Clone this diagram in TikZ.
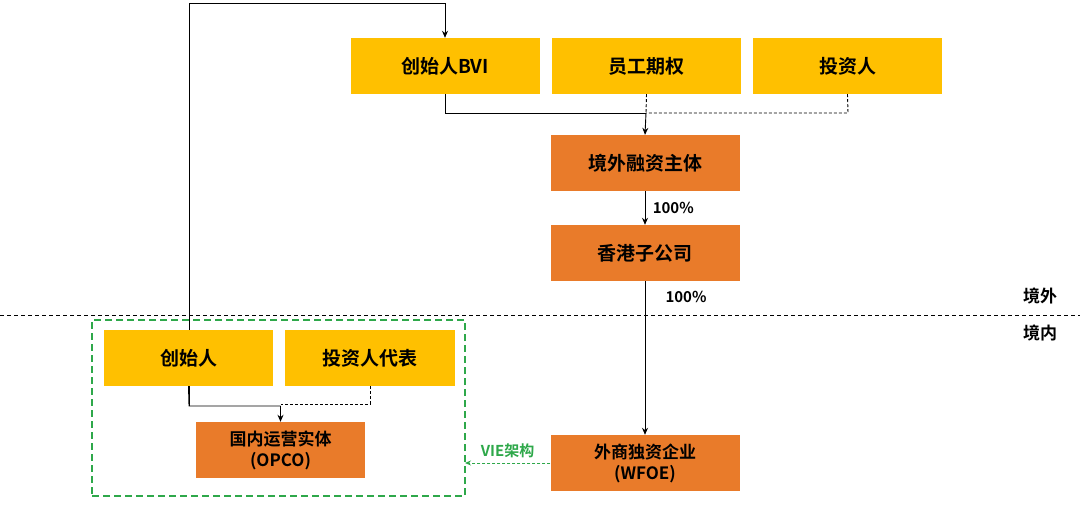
\documentclass[tikz,border=0pt]{standalone}
\usepackage{fontspec}
\setmainfont{Noto Sans CJK SC}[BoldFont={* Bold}]
\usetikzlibrary{arrows.meta}
\definecolor{yel}{HTML}{FFC000}
\definecolor{org}{HTML}{E97B2A}
\definecolor{grn}{HTML}{2EA84A}
\begin{document}
\begin{tikzpicture}[x=1pt,y=-1pt,
  box/.style={draw=none,minimum width=189pt,minimum height=56pt,inner sep=0pt,font=\fontsize{19}{22}\selectfont\bfseries,align=center},
  ybox/.style={box,fill=yel},
  obox/.style={box,fill=org},
  ln/.style={line width=0.9pt},
  arr/.style={ln,-{Stealth[length=7pt,width=6pt]}},
  dsh/.style={ln,dash pattern=on 3pt off 2pt},
  lbl/.style={font=\fontsize{15}{18}\selectfont\bfseries}]
\useasboundingbox (0,0) rectangle (1080,514);
% dashed border line
\coordinate (bl) at (0,315); \coordinate (br) at (1080,315);
\draw[ln,dash pattern=on 4pt off 3pt] (bl) -- (br);
\node[lbl,font=\fontsize{17}{20}\selectfont\bfseries] (jw) at (1040,296) {境外};
\node[lbl,font=\fontsize{17}{20}\selectfont\bfseries] (jn) at (1040,333) {境内};
% green group
\node[draw=grn,line width=1.6pt,dash pattern=on 7pt off 4pt,minimum width=373pt,minimum height=176pt,inner sep=0pt] (grp) at (278.5,408) {};
% long line behind
\coordinate (c1) at (189,406); \coordinate (c2) at (189,3); \coordinate (c3) at (445,3);
\node[ybox] (bvi) at (445,66) {创始人BVI};
\draw[arr] (c1) -- (c2) -- (c3) -- (bvi.north);
\node[ybox] (ygqq) at (646.5,66) {员工期权};
\node[ybox] (tzr) at (847.5,66) {投资人};
\node[obox] (jwrz) at (645,163) {境外融资主体};
\node[obox] (hk) at (645,253) {香港子公司};
\node[ybox,minimum width=169pt] (csr) at (188.5,358) {创始人};
\node[ybox,minimum width=170pt] (tzrdb) at (370,358) {投资人代表};
\node[obox,minimum width=169pt,font=\fontsize{17}{21}\selectfont\bfseries] (opco) at (280.5,450) {国内运营实体\\(OPCO)};
\node[obox,font=\fontsize{17}{21}\selectfont\bfseries] (wfoe) at (645,463) {外商独资企业\\(WFOE)};
% top connectors
\coordinate (j1) at (445,113); \coordinate (j2) at (646,113); \coordinate (j3) at (848,113);
\draw[ln] (bvi.south) -- (j1) -- (j2);
\draw[arr] (j2) -- (jwrz.north);
\draw[dsh] (ygqq.south) -- (j2);
\draw[dsh] (tzr.south) -- (j3) -- (j2);
\draw[arr] (jwrz.south) -- node[lbl,right=4pt] {100\%} (hk.north);
\draw[arr] (hk.south) -- (wfoe.north);
\node[lbl] (p2) at (686,297) {100\%};
% bottom-left connectors
\coordinate (k1) at (189,406); \coordinate (k2) at (280.5,406); \coordinate (k3) at (370,404); \coordinate (k4) at (280.5,404);
\draw[ln] (csr.south) -- (k1) -- (k2);
\draw[arr] (k2) -- (opco.north);
\draw[dsh] (tzrdb.south) -- (k3) -- (k4);
% VIE
\coordinate (g) at (465,463);
\draw[grn,line width=0.9pt,dash pattern=on 3pt off 2pt,-{Stealth[length=6pt,width=5pt]}] (wfoe.west) -- node[above=1pt,text=grn,lbl] {VIE架构} (g);
\end{tikzpicture}
\end{document}
